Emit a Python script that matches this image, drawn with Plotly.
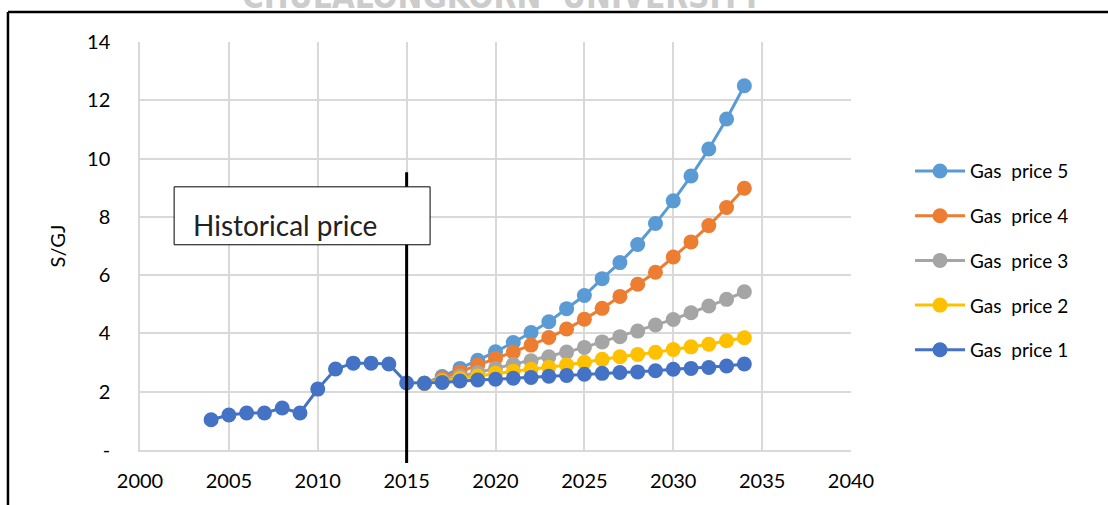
import plotly.graph_objects as go

# ---------------- data ----------------
hist_years = list(range(2004, 2016))
hist_price = [1.04, 1.20, 1.27, 1.27, 1.44, 1.27, 2.09, 2.78, 2.98, 2.98, 2.95, 2.30]

proj_years = list(range(2016, 2035))
gas_price_1 = [2.29, 2.32, 2.37, 2.40, 2.43, 2.46, 2.49, 2.53, 2.56, 2.60,
               2.63, 2.66, 2.68, 2.72, 2.77, 2.80, 2.83, 2.88, 2.95]
gas_price_2 = [2.29, 2.36, 2.45, 2.54, 2.63, 2.70, 2.77, 2.84, 2.92, 3.01,
               3.11, 3.20, 3.28, 3.35, 3.45, 3.54, 3.63, 3.75, 3.85]
gas_price_3 = [2.29, 2.40, 2.53, 2.66, 2.80, 2.93, 3.06, 3.20, 3.36, 3.52,
               3.71, 3.89, 4.08, 4.29, 4.48, 4.71, 4.94, 5.17, 5.43]
gas_price_4 = [2.29, 2.47, 2.68, 2.91, 3.14, 3.36, 3.60, 3.86, 4.15, 4.49,
               4.86, 5.27, 5.69, 6.10, 6.62, 7.14, 7.70, 8.32, 8.98]
gas_price_5 = [2.29, 2.52, 2.80, 3.08, 3.37, 3.69, 4.03, 4.40, 4.85, 5.30,
               5.88, 6.43, 7.05, 7.77, 8.55, 9.40, 10.33, 11.36, 12.50]

series_names = ["Gas\u00a0 price 5", "Gas\u00a0 price 4", "Gas\u00a0 price 3",
                "Gas\u00a0 price 2", "Gas\u00a0 price 1"]
series_colors = ["#5B9BD5", "#ED7D31", "#A5A5A5", "#FFC000", "#4472C4"]

x_ticks = [2000, 2005, 2010, 2015, 2020, 2025, 2030, 2035, 2040]
y_tickvals = [0, 2, 4, 6, 8, 10, 12, 14]
y_ticktext = ["-", "2", "4", "6", "8", "10", "12", "14"]

divider_year = 2015
annotation_text = "Historical price"
watermark_text = "CHULALONGKORN  UNIVERSITY"

XMIN, XMAX = 2000, 2040
YMIN, YMAX = 0, 14

FONT = "Lato, 'Open Sans', sans-serif"

# ---------------- figure ----------------
fig = go.Figure()

series_values = [gas_price_5, gas_price_4, gas_price_3, gas_price_2]
for name, color, vals in zip(series_names[:4], series_colors[:4], series_values):
    fig.add_trace(go.Scatter(
        x=proj_years, y=vals, name=name, mode="lines+markers",
        line=dict(color=color, width=3),
        marker=dict(color=color, size=15),
        legendgroup=name,
    ))

# Gas price 1 includes the historical part
fig.add_trace(go.Scatter(
    x=hist_years + proj_years[1:], y=hist_price + gas_price_1[1:],
    name=series_names[4], mode="lines+markers",
    line=dict(color=series_colors[4], width=3),
    marker=dict(color=series_colors[4], size=15),
    legendgroup=series_names[4],
))
fig.add_trace(go.Scatter(
    x=[proj_years[0]], y=[gas_price_1[0]], mode="markers",
    marker=dict(color=series_colors[4], size=15), showlegend=False,
))

xp = (divider_year - XMIN) / (XMAX - XMIN)

shapes = [
    dict(type="line", xref="paper", yref="paper", x0=xp, x1=xp,
         y0=-0.032, y1=0.681, line=dict(color="black", width=3), layer="above"),
    dict(type="rect", xref="paper", yref="paper", x0=0.048, x1=0.408,
         y0=0.503, y1=0.645, line=dict(color="black", width=1),
         fillcolor="white", layer="above"),
    dict(type="line", xref="paper", yref="paper", x0=-0.1857, x1=-0.1857,
         y0=-0.3, y1=1.0735, line=dict(color="black", width=2.5)),
    dict(type="line", xref="paper", yref="paper", x0=-0.1857, x1=1.5,
         y0=1.0735, y1=1.0735, line=dict(color="black", width=2.5)),
]

fig.update_layout(
    width=1108, height=505,
    margin=dict(l=140, r=257, t=42, b=55),
    paper_bgcolor="white", plot_bgcolor="white",
    font=dict(family=FONT, size=20, color="black"),
    shapes=shapes,
    showlegend=True,
    legend=dict(x=1.083, y=0.73, xanchor="left", yanchor="top",
                font=dict(size=19, color="black"), tracegroupgap=17,
                traceorder="grouped", itemwidth=50, bgcolor="rgba(0,0,0,0)"),
    annotations=[
        dict(text=annotation_text, xref="paper", yref="paper", x=0.072, y=0.505,
             xanchor="left", yanchor="bottom", showarrow=False,
             font=dict(size=28, color="#222222", family=FONT)),
        dict(text="<b>" + watermark_text + "</b>", xref="paper", yref="paper",
             x=0.51, y=1.06, xanchor="center", yanchor="bottom", showarrow=False,
             font=dict(size=33, color="#cccccc",
                       family="'Liberation Sans Narrow', 'DejaVu Sans Condensed', sans-serif")),
    ],
)

fig.update_xaxes(
    range=[XMIN, XMAX], tickvals=x_ticks, showgrid=True,
    gridcolor="#d9d9d9", gridwidth=1.5, zeroline=False,
    showline=True, linecolor="#d9d9d9", linewidth=1.5,
    ticks="", ticklabelstandoff=12, tickfont=dict(size=20),
)
fig.update_yaxes(
    range=[YMIN, YMAX], tickvals=y_tickvals, ticktext=y_ticktext,
    showgrid=True, gridcolor="#d9d9d9", gridwidth=1.5, zeroline=False,
    showline=True, linecolor="#d9d9d9", linewidth=1.5,
    ticks="", ticklabelstandoff=24, tickfont=dict(size=20),
    title=dict(text="S/GJ", font=dict(size=20), standoff=16),
)

fig.write_html("out.html",
               config={"displayModeBar": False},
               post_script="document.body.style.margin='0px';")
